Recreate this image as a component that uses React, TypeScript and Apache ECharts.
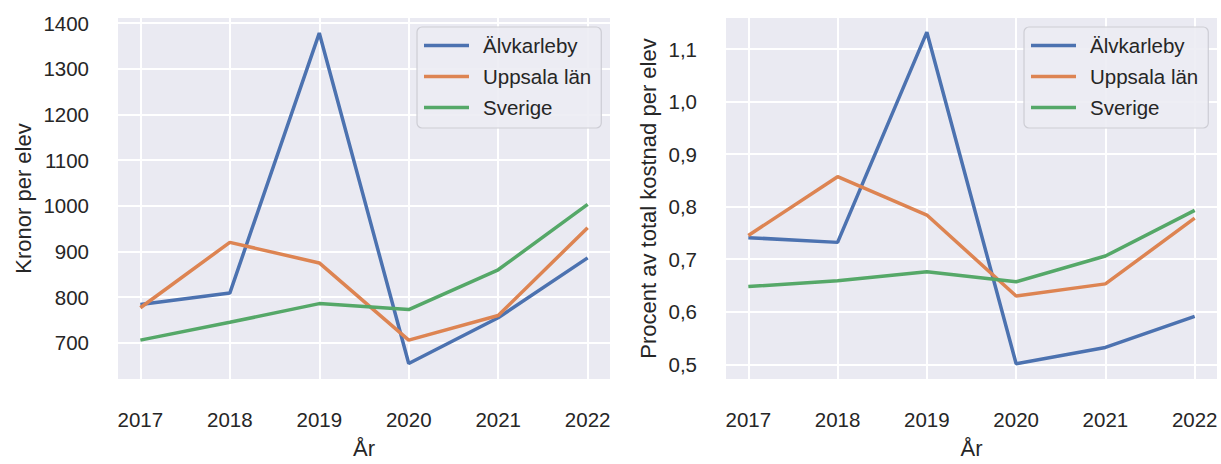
import React, { useEffect, useRef } from "react";
import * as echarts from "echarts";

const years = [2017, 2018, 2019, 2020, 2021, 2022];
const seriesNames = ["Älvkarleby", "Uppsala län", "Sverige"];
const seriesColors = ["#4c72b0", "#dd8452", "#55a868"];

const kronorAlvkarleby = [784, 809, 1378, 655, 755, 886];
const kronorUppsala = [777, 920, 875, 706, 760, 952];
const kronorSverige = [706, 745, 786, 773, 860, 1003];

const procentAlvkarleby = [0.741, 0.732, 1.132, 0.501, 0.532, 0.591];
const procentUppsala = [0.745, 0.857, 0.784, 0.63, 0.653, 0.778];
const procentSverige = [0.648, 0.659, 0.676, 0.657, 0.706, 0.793];

const kronorTicks = [700, 800, 900, 1000, 1100, 1200, 1300, 1400];
const procentTicks = [0.5, 0.6, 0.7, 0.8, 0.9, 1.0, 1.1];

const FONT = "Liberation Sans";
const TEXT = "#262626";
const FS = 20.5;
const NAME_FS = 22;

function xAxis(gridIndex: number) {
  return {
    type: "value",
    gridIndex,
    min: 2016.75,
    max: 2022.25,
    name: "År",
    nameLocation: "middle",
    nameGap: 58,
    nameTextStyle: { fontFamily: FONT, fontSize: NAME_FS, color: TEXT },
    axisLine: { show: false },
    axisTick: { show: false, customValues: years },
    axisLabel: {
      customValues: years,
      margin: 30,
      fontFamily: FONT,
      fontSize: FS,
      color: TEXT,
      formatter: (v: number) => String(v),
    },
    splitLine: { show: true, lineStyle: { color: "#ffffff", width: 2 } },
  };
}

function yAxis(gridIndex: number, min: number, max: number, ticks: number[], name: string, gap: number, fmt: (v: number) => string) {
  return {
    type: "value",
    gridIndex,
    min,
    max,
    name,
    nameLocation: "middle",
    nameGap: gap,
    nameTextStyle: { fontFamily: FONT, fontSize: NAME_FS, color: TEXT },
    axisLine: { show: false },
    axisTick: { show: false, customValues: ticks },
    axisLabel: {
      customValues: ticks,
      margin: 29,
      fontFamily: FONT,
      fontSize: FS,
      color: TEXT,
      formatter: fmt,
    },
    splitLine: { show: true, lineStyle: { color: "#ffffff", width: 2 } },
  };
}

function lineSeries(name: string, color: string, values: number[], idx: number) {
  return {
    type: "line",
    name,
    xAxisIndex: idx,
    yAxisIndex: idx,
    data: years.map((y, i) => [y, values[i]]),
    symbol: "none",
    showSymbol: false,
    color,
    lineStyle: { color, width: 3.5 },
    z: 3,
  };
}

function legend(left: number) {
  return {
    left,
    top: 27,
    orient: "vertical",
    icon: "rect",
    itemWidth: 45,
    itemHeight: 3.5,
    itemGap: 10,
    padding: [8, 10, 10, 7],
    backgroundColor: "rgba(236,236,243,0.9)",
    borderColor: "#cdcdd4",
    borderWidth: 1.2,
    borderRadius: 5,
    selectedMode: false,
    textStyle: {
      fontFamily: FONT,
      fontSize: 20.5,
      color: TEXT,
      lineHeight: 20,
      padding: [0, 0, 0, 9],
    },
    data: seriesNames,
  };
}

export default function App() {
  const ref = useRef<HTMLDivElement>(null);
  useEffect(() => {
    if (!ref.current) return;
    const chart = echarts.init(ref.current, undefined, { renderer: "svg" });
    chart.setOption({
      animation: false,
      backgroundColor: "#ffffff",
      grid: [
        { left: 118, top: 18, width: 492, height: 370, show: true, backgroundColor: "#eaeaf2", borderWidth: 0 },
        { left: 726, top: 18, width: 491, height: 370, show: true, backgroundColor: "#eaeaf2", borderWidth: 0 },
      ],
      xAxis: [xAxis(0), xAxis(1)],
      yAxis: [
        yAxis(0, 621, 1411, kronorTicks, "Kronor per elev", 84, (v: number) => String(Math.round(v))),
        yAxis(1, 0.472, 1.159, procentTicks, "Procent av total kostnad per elev", 67, (v: number) => v.toFixed(1).replace(".", ",")),
      ],
      legend: [legend(417), legend(1024)],
      series: [
        lineSeries(seriesNames[0], seriesColors[0], kronorAlvkarleby, 0),
        lineSeries(seriesNames[1], seriesColors[1], kronorUppsala, 0),
        lineSeries(seriesNames[2], seriesColors[2], kronorSverige, 0),
        lineSeries(seriesNames[0], seriesColors[0], procentAlvkarleby, 1),
        lineSeries(seriesNames[1], seriesColors[1], procentUppsala, 1),
        lineSeries(seriesNames[2], seriesColors[2], procentSverige, 1),
      ],
    });
    return () => chart.dispose();
  }, []);
  return (
    <div
      ref={ref}
      style={{ position: "fixed", left: 0, top: 0, width: 1221, height: 464 }}
    />
  );
}
